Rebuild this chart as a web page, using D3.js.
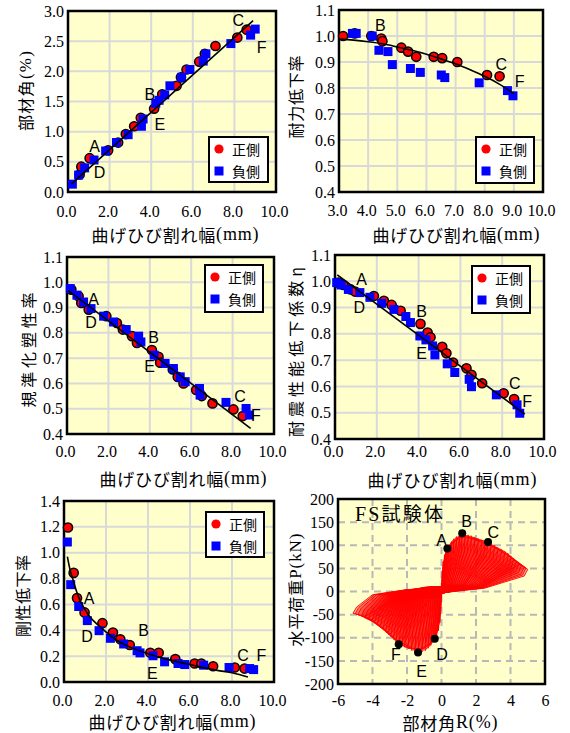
<!DOCTYPE html>
<html>
<head>
<meta charset="utf-8">
<script src="https://cdn.jsdelivr.net/npm/d3@7"></script>
<style>
  body { margin: 0; background: #fff; }
  svg { display: block; }
</style>
</head>
<body>
<div id="chart"></div>
<script>
// ---- tick labels ----
const crackTicks = [0, 2, 4, 6, 8, 10];
const strengthXTicks = [3, 4, 5, 6, 7, 8, 9, 10];
const driftTicks = [0, 0.5, 1.0, 1.5, 2.0, 2.5, 3.0];
const ratioTicks = [0.4, 0.5, 0.6, 0.7, 0.8, 0.9, 1.0, 1.1];
const stiffTicks = [0, 0.2, 0.4, 0.6, 0.8, 1.0, 1.2, 1.4];
const hystXTicks = [-6, -4, -2, 0, 2, 4, 6];
const hystYTicks = [-200, -150, -100, -50, 0, 50, 100, 150, 200];

const seriesNames = ["正側", "負側"];

// ---- 部材角 vs 曲げひび割れ幅 ----
const driftPosX = [0.56, 0.64, 1.04, 1.93, 2.41, 2.78, 3.18, 3.50, 4.14, 4.53, 5.22, 5.43, 5.70, 6.31, 6.58, 7.09, 8.14, 8.59];
const driftPosY = [0.29, 0.42, 0.56, 0.69, 0.82, 0.96, 1.09, 1.23, 1.38, 1.62, 1.76, 1.90, 2.03, 2.16, 2.29, 2.42, 2.56, 2.69];
const driftNegX = [0.21, 0.51, 0.80, 1.25, 1.81, 2.33, 2.89, 3.53, 3.61, 4.22, 4.38, 4.65, 4.90, 5.46, 5.86, 6.50, 6.63, 7.83, 8.78, 9.00];
const driftNegY = [0.13, 0.28, 0.40, 0.53, 0.68, 0.82, 0.95, 1.09, 1.21, 1.47, 1.52, 1.61, 1.76, 1.90, 2.03, 2.17, 2.29, 2.46, 2.60, 2.70];
const driftTrend = [[0.16, 0.13], [8.9, 2.84]];
const driftMarks = [["A", 1.28, 0.75], ["D", 1.52, 0.32], ["B", 3.93, 1.61], ["E", 4.41, 1.12], ["C", 8.19, 2.85], ["F", 9.31, 2.40]];

// ---- 耐力低下率 ----
const strengthPosX = [3.14, 3.54, 4.11, 4.45, 4.49, 5.14, 5.37, 5.65, 6.25, 6.54, 7.06, 8.08, 8.51];
const strengthPosY = [1.00, 1.01, 1.00, 0.99, 0.98, 0.955, 0.94, 0.92, 0.92, 0.915, 0.90, 0.85, 0.845];
const strengthNegX = [3.46, 3.59, 4.14, 4.37, 4.68, 4.83, 5.45, 5.79, 6.51, 6.63, 7.81, 8.78, 8.97];
const strengthNegY = [1.01, 1.01, 1.00, 0.945, 0.94, 0.89, 0.875, 0.86, 0.85, 0.84, 0.82, 0.79, 0.77];
const strengthTrend = [[3.0, 0.988], [3.5, 0.984], [4.0, 0.978], [4.5, 0.97], [5.0, 0.958], [5.5, 0.945], [6.0, 0.93], [6.5, 0.912], [7.0, 0.893], [7.5, 0.87], [8.0, 0.845], [8.5, 0.815], [9.0, 0.778]];
const strengthMarks = [["B", 4.42, 1.041], ["C", 8.57, 0.891], ["F", 9.2, 0.825]];

// ---- 規準化塑性率 ----
const ductPosX = [0.21, 0.56, 0.69, 1.05, 1.90, 2.41, 2.70, 3.14, 3.38, 4.10, 4.42, 4.50, 5.11, 5.35, 5.63, 6.24, 6.51, 7.03, 8.04, 8.49];
const ductPosY = [0.971, 0.945, 0.918, 0.892, 0.866, 0.839, 0.813, 0.787, 0.760, 0.732, 0.705, 0.682, 0.655, 0.626, 0.600, 0.574, 0.550, 0.521, 0.497, 0.471];
const ductNegX = [0.16, 0.48, 0.80, 1.16, 1.77, 2.25, 2.86, 3.46, 3.57, 4.21, 4.74, 5.14, 5.47, 5.71, 6.40, 6.43, 7.68, 8.65, 8.81];
const ductNegY = [0.975, 0.949, 0.922, 0.896, 0.866, 0.843, 0.813, 0.787, 0.764, 0.712, 0.679, 0.659, 0.626, 0.607, 0.580, 0.554, 0.525, 0.501, 0.475];
const ductTrend = [[0.05, 0.968], [8.87, 0.422]];
const ductMarks = [["A", 1.29, 0.932], ["D", 1.16, 0.839], ["B", 4.18, 0.782], ["E", 3.99, 0.666], ["C", 8.36, 0.547], ["F", 9.13, 0.475]];

// ---- 耐震性能低下係数η ----
const etaPosX = [0.16, 0.40, 0.75, 0.96, 1.86, 2.34, 2.71, 3.14, 4.09, 4.43, 4.57, 5.13, 5.33, 5.65, 6.29, 6.53, 7.04, 8.07, 8.57];
const etaPosY = [0.995, 0.986, 0.969, 0.961, 0.944, 0.926, 0.910, 0.888, 0.838, 0.805, 0.787, 0.751, 0.726, 0.691, 0.669, 0.644, 0.612, 0.574, 0.552];
const etaNegX = [0.08, 0.29, 0.64, 1.19, 1.67, 2.23, 2.82, 3.39, 3.61, 4.06, 4.35, 4.67, 4.78, 5.37, 5.73, 6.42, 6.53, 7.72, 8.71, 8.84];
const etaNegY = [0.995, 0.986, 0.969, 0.957, 0.939, 0.916, 0.893, 0.866, 0.843, 0.792, 0.777, 0.754, 0.720, 0.686, 0.653, 0.627, 0.599, 0.568, 0.530, 0.498];
const etaTrend = [[0.11, 1.024], [9.08, 0.495]];
const etaMarks = [["A", 1.27, 1.005], ["D", 1.16, 0.90], ["B", 4.14, 0.885], ["E", 4.14, 0.726], ["C", 8.6, 0.61], ["F", 9.19, 0.542]];

// ---- 剛性低下率 ----
const stiffPosX = [0.19, 0.46, 0.62, 0.98, 1.83, 2.33, 2.68, 3.13, 4.11, 4.51, 5.30, 6.22, 6.54, 7.10, 8.13, 8.60];
const stiffPosY = [1.195, 0.844, 0.649, 0.538, 0.455, 0.382, 0.330, 0.286, 0.226, 0.226, 0.177, 0.143, 0.143, 0.122, 0.112, 0.104];
const stiffNegX = [0.16, 0.32, 0.70, 1.11, 1.67, 2.21, 2.84, 3.48, 3.62, 4.24, 4.79, 5.43, 5.75, 6.65, 7.86, 8.84, 9.03];
const stiffNegY = [1.083, 0.753, 0.584, 0.475, 0.397, 0.338, 0.294, 0.242, 0.225, 0.203, 0.156, 0.143, 0.135, 0.130, 0.112, 0.104, 0.096];
const stiffTrend = [[0.16, 0.97], [0.3, 0.86], [0.43, 0.79], [0.6, 0.70], [0.75, 0.636], [1.0, 0.56], [1.22, 0.506], [1.7, 0.43], [2.49, 0.325], [3.29, 0.26], [4.08, 0.215], [4.87, 0.177], [5.6, 0.15], [6.46, 0.117], [7.3, 0.09], [8.05, 0.07], [8.76, 0.039]];
const stiffMarks = [["A", 1.19, 0.649], ["D", 1.10, 0.351], ["B", 3.79, 0.397], ["E", 4.21, 0.065], ["C", 8.52, 0.208], ["F", 9.40, 0.208]];

// ---- 水平荷重P - 部材角R (FS試験体), cycle peaks ----
const hystPosR = [0.05, 0.1, 0.18, 0.26, 0.34, 0.45, 0.58, 0.72, 0.88, 1.05, 1.2, 1.38, 1.56, 1.75, 1.95, 2.15, 2.35, 2.55, 2.7, 2.9, 3.1, 3.3, 3.5, 3.7, 3.9, 4.05, 4.2, 4.35, 4.5, 4.65, 4.8, 4.9, 5.0];
const hystPosP = [45, 65, 80, 88, 93, 101, 108, 114, 119, 122, 124, 123, 122, 120, 117, 114, 111, 109, 107, 103, 99, 94, 90, 86, 81, 76, 71, 66, 62, 58, 54, 51, 48];
const hystNegR = [-0.05, -0.1, -0.18, -0.28, -0.39, -0.5, -0.63, -0.78, -0.95, -1.15, -1.36, -1.55, -1.75, -1.95, -2.15, -2.3, -2.48, -2.65, -2.8, -2.95, -3.1, -3.25, -3.4, -3.57, -3.75, -3.9, -4.05, -4.25, -4.45, -4.65, -4.85, -5.0, -5.13];
const hystNegP = [-45, -68, -85, -95, -102, -110, -117, -123, -128, -131, -132, -130, -127, -123, -120, -117, -114, -108, -103, -97, -92, -87, -82, -77, -72, -68, -64, -60, -57, -53, -50, -48, -47];
const hystMarks = [["A", 0.34, 93, 0.0, 111], ["B", 1.2, 126, 1.45, 151], ["C", 2.7, 107, 3.0, 128],
                   ["D", -0.39, -102, 0.03, -137], ["E", -1.36, -132, -1.16, -174], ["F", -2.48, -114, -2.65, -137]];

// ---------------------------------------------------------------
const width = 570, height = 733;
const SERIF = "'Liberation Serif', 'Times New Roman', serif";
const SANS = "'Liberation Sans', Arial, sans-serif";
const JP = "'Noto Sans CJK JP', 'Noto Sans', sans-serif";
const BG = "#ffffcc";
const GRID = "#d9d9d9";

const svg = d3.select("#chart").append("svg")
    .attr("width", width)
    .attr("height", height);

function axisTitle(t) {
    const txt = svg.append("text")
        .attr("font-family", JP)
        .attr("font-size", t.size || 16)
        .attr("fill", "#000")
        .attr("text-anchor", "middle")
        .attr("dominant-baseline", "central")
        .attr("textLength", t.len)
        .attr("lengthAdjust", "spacing")
        .attr("transform", t.rotate
            ? `translate(${t.x},${t.y}) rotate(-90)`
            : `translate(${t.x},${t.y})`);
    txt.append("tspan").text(t.jp);
    if (t.latin) txt.append("tspan").attr("font-family", SERIF).attr("font-size", (t.size || 16) + 1).text(t.latin);
}

function drawAxes(g, x, y, cfg) {
    const [x0, y0, x1, y1] = cfg.box;
    const fs = 16;
    const ax = g.append("g")
        .attr("transform", `translate(0,${y1})`)
        .call(d3.axisBottom(x).tickValues(cfg.xTicks).tickSize(0)
            .tickPadding(cfg.xLabelY - y1 - 0.71 * fs)
            .tickFormat(cfg.xFormat));
    ax.select(".domain").remove();
    ax.selectAll("text").attr("dx", cfg.xShift || 0);
    const ay = g.append("g")
        .attr("transform", `translate(${x0},0)`)
        .call(d3.axisLeft(y).tickValues(cfg.yTicks).tickSize(0).tickPadding(4)
            .tickFormat(cfg.yFormat));
    ay.select(".domain").remove();
    [ax, ay].forEach(a => a.attr("font-family", SERIF).attr("font-size", fs)
        .selectAll("text").attr("fill", "#000"));
}

function scatterPanel(cfg) {
    const [x0, y0, x1, y1] = cfg.box;
    const x = d3.scaleLinear().domain(d3.extent(cfg.xTicks)).range([x0, x1]);
    const y = d3.scaleLinear().domain(d3.extent(cfg.yTicks)).range([y1, y0]);
    const g = svg.append("g");

    g.append("rect").attr("x", x0).attr("y", y0)
        .attr("width", x1 - x0).attr("height", y1 - y0).attr("fill", BG);

    g.append("g").selectAll("line").data(cfg.xTicks.slice(1, -1)).join("line")
        .attr("x1", d => x(d)).attr("x2", d => x(d)).attr("y1", y0).attr("y2", y1)
        .attr("stroke", GRID).attr("stroke-width", 2);
    g.append("g").selectAll("line").data(cfg.yTicks.slice(1, -1)).join("line")
        .attr("y1", d => y(d)).attr("y2", d => y(d)).attr("x1", x0).attr("x2", x1)
        .attr("stroke", GRID).attr("stroke-width", 2);

    g.append("rect").attr("x", x0).attr("y", y0)
        .attr("width", x1 - x0).attr("height", y1 - y0)
        .attr("fill", "none").attr("stroke", "#000").attr("stroke-width", 2.5);

    drawAxes(g, x, y, cfg);

    const pos = cfg.posX.map((v, i) => [v, cfg.posY[i]]);
    const neg = cfg.negX.map((v, i) => [v, cfg.negY[i]]);

    g.append("g").selectAll("circle").data(pos).join("circle")
        .attr("cx", d => x(d[0])).attr("cy", d => y(d[1])).attr("r", 4.6)
        .attr("fill", "#ff0000").attr("stroke", "#000").attr("stroke-width", 1.5);
    g.append("g").selectAll("rect").data(neg).join("rect")
        .attr("x", d => x(d[0]) - 4.5).attr("y", d => y(d[1]) - 4.5)
        .attr("width", 9).attr("height", 9).attr("fill", "#0000ff");

    g.append("path").datum(cfg.trend)
        .attr("d", d3.line().x(d => x(d[0])).y(d => y(d[1])).curve(d3.curveMonotoneX))
        .attr("fill", "none").attr("stroke", "#000").attr("stroke-width", 1.6);

    g.append("g").selectAll("text").data(cfg.marks).join("text")
        .attr("x", d => x(d[1])).attr("y", d => y(d[2]))
        .attr("text-anchor", "middle").attr("dominant-baseline", "central")
        .attr("font-family", SANS).attr("font-size", 16).attr("fill", "#000")
        .text(d => d[0]);

    // legend
    const [lx, ly, lw, lh] = cfg.legend;
    const lg = g.append("g").attr("transform", `translate(${lx},${ly})`);
    lg.append("rect").attr("width", lw).attr("height", lh)
        .attr("fill", "#fff").attr("stroke", "#000").attr("stroke-width", 2);
    const rows = lg.selectAll("g").data(seriesNames).join("g")
        .attr("transform", (d, i) => `translate(0,${12 + i * 22})`);
    rows.filter((d, i) => i === 0).append("circle")
        .attr("cx", 10).attr("cy", 0).attr("r", 4.6).attr("fill", "#ff0000");
    rows.filter((d, i) => i === 1).append("rect")
        .attr("x", 5.5).attr("y", -4.5).attr("width", 9).attr("height", 9).attr("fill", "#0000ff");
    rows.append("text").attr("x", 23).attr("y", 0)
        .attr("dominant-baseline", "central")
        .attr("font-family", JP).attr("font-size", 14).attr("fill", "#000")
        .text(d => d);

    axisTitle({ ...cfg.yTitle, rotate: true });
    axisTitle(cfg.xTitle);
}

const f1 = d3.format(".1f");
const crackTitle = { jp: "曲げひび割れ幅", latin: "(mm)", size: 17 };

scatterPanel({
    box: [68, 11, 276, 192], xTicks: crackTicks, yTicks: driftTicks, xFormat: f1, yFormat: f1,
    xLabelY: 217, xShift: -2,
    posX: driftPosX, posY: driftPosY, negX: driftNegX, negY: driftNegY,
    trend: driftTrend, marks: driftMarks, legend: [209, 137, 59, 45],
    yTitle: { jp: "部材角", latin: "(%)", x: 25, y: 91, len: 80 },
    xTitle: { ...crackTitle, x: 175, y: 234, len: 167 }
});

scatterPanel({
    box: [339, 10, 543, 192], xTicks: strengthXTicks, yTicks: ratioTicks, xFormat: f1, yFormat: f1,
    xLabelY: 216, xShift: -2,
    posX: strengthPosX, posY: strengthPosY, negX: strengthNegX, negY: strengthNegY,
    trend: strengthTrend, marks: strengthMarks, legend: [476, 137, 58, 46],
    yTitle: { jp: "耐力低下率", x: 295, y: 97, len: 83 },
    xTitle: { ...crackTitle, x: 456, y: 234, len: 167 }
});

scatterPanel({
    box: [67, 257, 274, 434], xTicks: crackTicks, yTicks: ratioTicks, xFormat: f1, yFormat: f1,
    xLabelY: 457, xShift: -2,
    posX: ductPosX, posY: ductPosY, negX: ductNegX, negY: ductNegY,
    trend: ductTrend, marks: ductMarks, legend: [205, 265, 58, 47],
    yTitle: { jp: "規準化塑性率", x: 28, y: 350, len: 115 },
    xTitle: { ...crackTitle, x: 183, y: 478, len: 167 }
});

scatterPanel({
    box: [335, 255, 544, 439], xTicks: crackTicks, yTicks: ratioTicks, xFormat: f1, yFormat: f1,
    xLabelY: 457, xShift: -2,
    posX: etaPosX, posY: etaPosY, negX: etaNegX, negY: etaNegY,
    trend: etaTrend, marks: etaMarks, legend: [472, 266, 58, 47],
    yTitle: { jp: "耐震性能低下係数η", x: 295, y: 352, len: 170 },
    xTitle: { ...crackTitle, x: 452, y: 479, len: 169 }
});

scatterPanel({
    box: [64, 501, 274, 682], xTicks: crackTicks, yTicks: stiffTicks, xFormat: f1, yFormat: f1,
    xLabelY: 706, xShift: -2,
    posX: stiffPosX, posY: stiffPosY, negX: stiffNegX, negY: stiffNegY,
    trend: stiffTrend, marks: stiffMarks, legend: [206, 512, 58, 45],
    yTitle: { jp: "剛性低下率", x: 22, y: 596, len: 82 },
    xTitle: { ...crackTitle, x: 172, y: 721, len: 167 }
});

// ---- hysteresis panel ----
(function hysteresisPanel() {
    const cfg = {
        box: [338, 499, 545, 684], xTicks: hystXTicks, yTicks: hystYTicks,
        xFormat: d => String(d), yFormat: d => String(d), xLabelY: 706, xShift: 0
    };
    const [x0, y0, x1, y1] = cfg.box;
    const x = d3.scaleLinear().domain([-6, 6]).range([x0, x1]);
    const y = d3.scaleLinear().domain([-200, 200]).range([y1, y0]);
    const g = svg.append("g");

    g.append("rect").attr("x", x0).attr("y", y0)
        .attr("width", x1 - x0).attr("height", y1 - y0).attr("fill", BG);
    g.append("g").selectAll("line").data(hystXTicks.slice(1, -1)).join("line")
        .attr("x1", d => x(d)).attr("x2", d => x(d)).attr("y1", y0).attr("y2", y1)
        .attr("stroke", "#b8b8b8").attr("stroke-width", 2).attr("stroke-dasharray", "7,5");
    g.append("g").selectAll("line").data(hystYTicks.slice(1, -1)).join("line")
        .attr("y1", d => y(d)).attr("y2", d => y(d)).attr("x1", x0).attr("x2", x1)
        .attr("stroke", "#b8b8b8").attr("stroke-width", 2).attr("stroke-dasharray", "7,5");

    // each cycle: reload toward an earlier peak, climb to this peak, unload with pinching
    const lag = 4;
    const loops = hystPosR.map((rp, i) => {
        const pp = hystPosP[i], rn = hystNegR[i], pn = hystNegP[i];
        const k = i - lag;
        const rpk = k >= 0 ? hystPosR[k] : 0, ppk = k >= 0 ? hystPosP[k] : 0;
        const rnk = k >= 0 ? hystNegR[k] : 0, pnk = k >= 0 ? hystNegP[k] : 0;
        return [
            [0, -0.08 * pn],
            [0.5 * rpk, 0.12 * ppk],
            [rpk, 0.95 * ppk],
            [rp, pp],
            [0.96 * rp, 0.7 * pp],
            [0.5 * rp, 0.15 * pp],
            [0, -0.05 * pp],
            [0.5 * rnk, 0.12 * pnk],
            [rnk, 0.95 * pnk],
            [rn, pn],
            [0.96 * rn, 0.72 * pn],
            [0.78 * rn, 0.15 * pn],
            [0.4 * rn, -0.08 * pn]
        ];
    });
    const loopLine = d3.line().x(d => x(d[0])).y(d => y(d[1])).curve(d3.curveLinearClosed);
    g.append("g").selectAll("path").data(loops).join("path")
        .attr("d", loopLine)
        .attr("fill", "rgba(255,0,0,0.3)")
        .attr("stroke", "#ff0000").attr("stroke-width", 0.9);

    g.append("rect").attr("x", x0).attr("y", y0)
        .attr("width", x1 - x0).attr("height", y1 - y0)
        .attr("fill", "none").attr("stroke", "#000").attr("stroke-width", 2.5);
    drawAxes(g, x, y, cfg);

    g.append("g").selectAll("circle").data(hystMarks).join("circle")
        .attr("cx", d => x(d[1])).attr("cy", d => y(d[2])).attr("r", 4).attr("fill", "#000");
    g.append("g").selectAll("text").data(hystMarks).join("text")
        .attr("x", d => x(d[3])).attr("y", d => y(d[4]))
        .attr("text-anchor", "middle").attr("dominant-baseline", "central")
        .attr("font-family", SANS).attr("font-size", 16).attr("fill", "#000")
        .text(d => d[0]);

    const title = g.append("text").attr("x", 355).attr("y", 521)
        .attr("font-size", 20).attr("fill", "#000")
        .attr("textLength", 88).attr("lengthAdjust", "spacing");
    title.append("tspan").attr("font-family", SERIF).text("FS");
    title.append("tspan").attr("font-family", JP).attr("font-size", 19).text("試験体");

    axisTitle({ jp: "水平荷重", latin: "P(kN)", x: 295, y: 590, len: 113, rotate: true });
    axisTitle({ jp: "部材角", latin: "R(%)", x: 450, y: 722, len: 95, size: 17 });
})();
</script>
</body>
</html>
